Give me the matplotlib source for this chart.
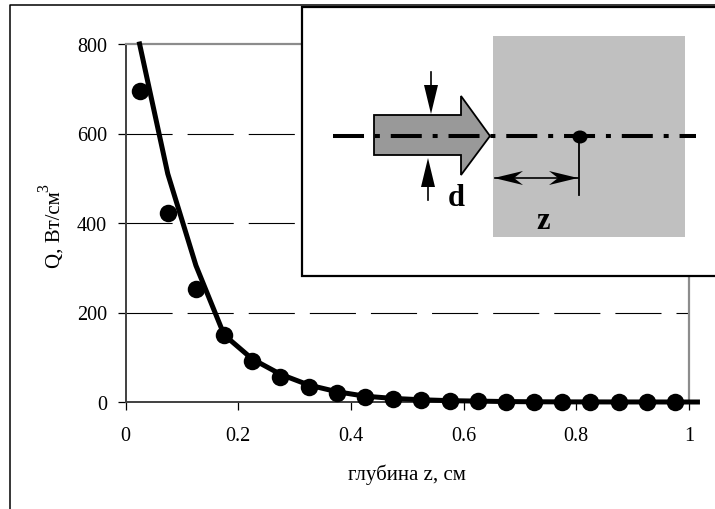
import matplotlib
matplotlib.use('Agg')
import matplotlib.pyplot as plt
from matplotlib.patches import Polygon, Rectangle, Ellipse

plt.rcParams['font.family'] = ['Liberation Serif', 'DejaVu Serif']

# measured points
z_points = [0.025, 0.075, 0.125, 0.175, 0.225, 0.275, 0.325, 0.375, 0.425, 0.475,
            0.525, 0.575, 0.625, 0.675, 0.725, 0.775, 0.825, 0.875, 0.925, 0.975]
q_points = [695, 422, 253, 150, 91, 55, 33, 19, 12, 7,
            4, 2.5, 1.5, 1, 0.5, 0.3, 0.2, 0.1, 0.1, 0]

# calculated curve
z_line = [0.025, 0.075, 0.125, 0.175, 0.225, 0.275, 0.325, 0.375, 0.425, 0.475,
          0.525, 0.575, 0.625, 0.675, 0.725, 0.775, 0.825, 0.875, 0.925, 0.975, 1.015]
q_line = [800, 510, 305, 150, 96, 62, 38, 23, 13, 8,
          5, 3, 2, 1, 0.5, 0.3, 0.2, 0.1, 0.1, 0, 0]

x_ticks = [0, 0.2, 0.4, 0.6, 0.8, 1]
x_labels = ['0', '0.2', '0.4', '0.6', '0.8', '1']
y_ticks = [0, 200, 400, 600, 800]

W, H = 715, 510
fig = plt.figure(figsize=(W / 100, H / 100), dpi=100)

ax = fig.add_axes([125.5 / W, (H - 403) / H, 563.5 / W, 358 / H])
ax.set_xlim(0, 1)
ax.set_ylim(0, 800)
ax.set_xticks(x_ticks, x_labels)
ax.set_yticks(y_ticks)
ax.tick_params(axis='both', labelsize=14.5, length=6, width=0.9, color='black')
ax.tick_params(axis='x', pad=11)
ax.tick_params(axis='y', pad=7.5)

for level in y_ticks[1:4]:
    ax.axhline(level, color='black', lw=0.8, linestyle=(0, (41.5, 13.5)), zorder=1)

for side in ['top', 'right']:
    ax.spines[side].set_color('#8c8c8c')
    ax.spines[side].set_linewidth(1.6)
for side in ['left', 'bottom']:
    ax.spines[side].set_color('#404040')
    ax.spines[side].set_linewidth(1.4)

ax.plot(z_line, q_line, color='black', lw=3.6, clip_on=False, zorder=3,
        solid_joinstyle='round')
ax.plot(z_points, q_points, 'o', color='black', ms=12.6, mew=0, clip_on=False, zorder=4)

fig.text(60 / W, 1 - 268 / H, 'Q, Вт/см', rotation=90, fontsize=15,
         ha='left', va='baseline', rotation_mode='anchor')
fig.text(48.5 / W, 1 - 192 / H, '3', rotation=90, fontsize=11.5,
         ha='left', va='baseline', rotation_mode='anchor')
fig.text(407 / W, 1 - 475 / H, 'глубина z, см', fontsize=15, ha='center', va='center')

# overlay in pixel coordinates for the frame and the inset sketch
ov = fig.add_axes([0, 0, 1, 1], zorder=10)
ov.set_xlim(0, W)
ov.set_ylim(H, 0)
ov.axis('off')

ov.plot([9.5, 9.5, W], [H, 5.5, 5.5], color='black', lw=1.1)

ov.add_patch(Rectangle((302, 7.5), W - 302 + 5, 269, fc='white', ec='black', lw=1.6, zorder=1))
ov.add_patch(Rectangle((493, 37), 192, 201, fc='#c0c0c0', ec='none', zorder=2))

beam = [(374, 116), (461, 116), (461, 97), (490, 137), (461, 176), (461, 156), (374, 156)]
ov.add_patch(Polygon(beam, closed=True, fc='#999999', ec='black', lw=1.3, zorder=3))

ov.plot([333, 696], [137, 137], color='black', lw=2.9, zorder=4,
        linestyle=(0, (7.7, 2.7, 1.24, 2.7)), dash_capstyle='butt')

# d arrows
ov.plot([431, 431], [73, 90], color='black', lw=1.2, zorder=4)
ov.add_patch(Polygon([(424, 86), (438, 86), (431, 115)], fc='black', ec='none', zorder=4))
ov.plot([428, 428], [185, 201], color='black', lw=1.2, zorder=4)
ov.add_patch(Polygon([(421, 188), (435, 188), (428, 159)], fc='black', ec='none', zorder=4))

# z arrow
ov.plot([495, 578], [179, 179], color='black', lw=1.2, zorder=4)
ov.add_patch(Polygon([(494, 179), (523, 172), (514, 179), (523, 186)], fc='black', ec='none', zorder=4))
ov.add_patch(Polygon([(578, 179), (549, 172), (558, 179), (549, 186)], fc='black', ec='none', zorder=4))
ov.plot([579, 579], [137, 196], color='black', lw=1.3, zorder=4)
ov.add_patch(Ellipse((580, 138), 15, 13, fc='black', ec='none', zorder=5))

ov.text(456, 199, 'd', fontsize=22, fontweight='bold', ha='center', va='center', zorder=5)
ov.text(543, 222, 'z', fontsize=22, fontweight='bold', ha='center', va='center', zorder=5)

fig.savefig('out.png', dpi=100)
